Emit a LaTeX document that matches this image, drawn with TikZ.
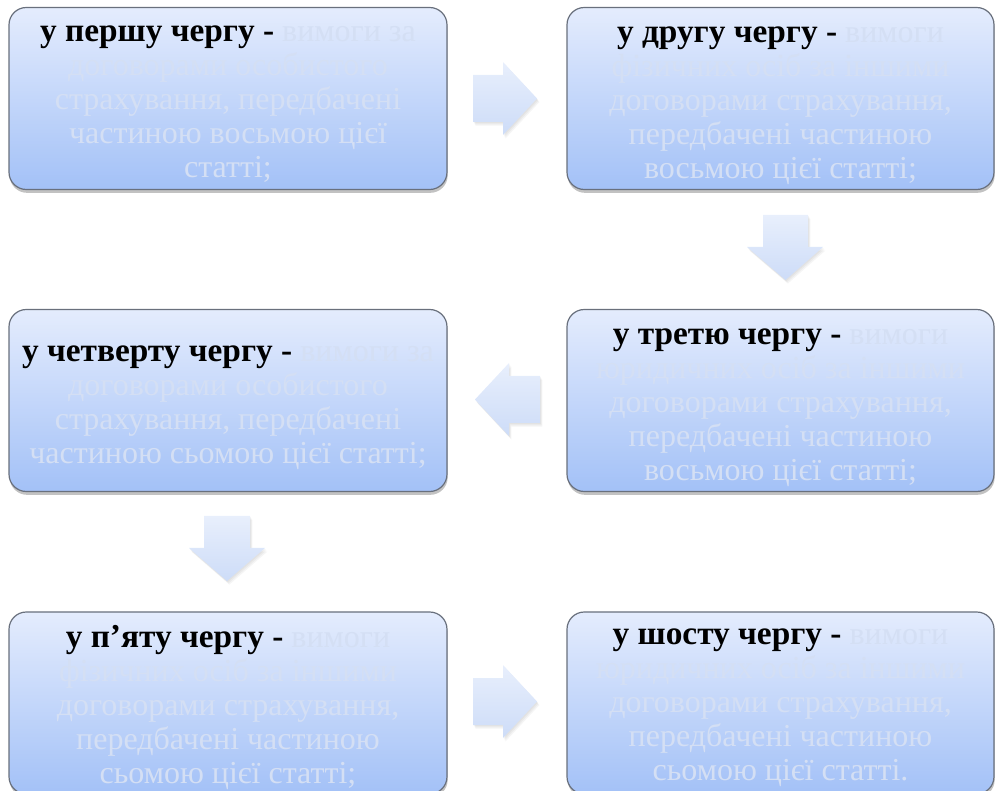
\documentclass[tikz,border=0pt]{standalone}
\usepackage{fontspec}
\setmainfont{Liberation Serif}
\usetikzlibrary{shadows}
\definecolor{boxtop}{RGB}{228,236,253}
\definecolor{boxbot}{RGB}{163,193,247}
\definecolor{boxline}{RGB}{105,112,125}
\definecolor{paletext}{RGB}{212,223,244}
\definecolor{arrtop}{RGB}{232,239,252}
\definecolor{arrbot}{RGB}{205,220,248}
\tikzset{
  stagebox/.style={draw=boxline, line width=0.9pt, rounded corners=13pt,
    top color=boxtop, bottom color=boxbot,
    minimum height=136.5pt, inner sep=0pt,
    drop shadow={shadow xshift=0.5pt, shadow yshift=-2.5pt, opacity=0.4, fill=black!60}},
  leftbox/.style={stagebox, minimum width=328.5pt},
  rightbox/.style={stagebox, minimum width=320.25pt},
  boxtext/.style={align=center, inner sep=0pt, font=\fontsize{24}{25.5}\selectfont},
  blockarrow/.style={top color=arrtop, bottom color=arrbot, draw=none},
  arrshadow/.style={fill=black, opacity=0.04},
}
\newcommand\lead[1]{{\fontsize{25}{25.5}\selectfont\textcolor{black}{\textbf{#1}}}}
\newcommand\pale[1]{\textcolor{paletext}{#1}}
\begin{document}
\begin{tikzpicture}[x=0.75pt,y=-0.75pt]
\useasboundingbox (0,0) rectangle (997,791);
\begin{scope}
\clip (0,0) rectangle (997,791);
% boxes
\node[leftbox] (b1) at (228,98.5) {};
\node[rightbox] (b2) at (780.5,98.5) {};
\node[rightbox] (b3) at (780.5,400.5) {};
\node[leftbox] (b4) at (228,400.5) {};
\node[leftbox] (b5) at (228,703) {};
\node[rightbox] (b6) at (780.5,703) {};
% texts
\node[boxtext] (t1) at ([yshift=-4.5pt]b1.center) {\lead{у першу чергу -} \pale{вимоги за}\\
 \pale{договорами особистого}\\
 \pale{страхування, передбачені}\\
 \pale{частиною восьмою цієї}\\
 \pale{статті;}};
\node[boxtext] (t2) at ([yshift=-5.25pt]b2.center) {\lead{у другу чергу -} \pale{вимоги}\\
 \pale{фізичних осіб за іншими}\\
 \pale{договорами страхування,}\\
 \pale{передбачені частиною}\\
 \pale{восьмою цієї статті;}};
\node[boxtext] (t3) at ([yshift=-5.25pt]b3.center) {\lead{у третю чергу -} \pale{вимоги}\\
 \pale{юридичних осіб за іншими}\\
 \pale{договорами страхування,}\\
 \pale{передбачені частиною}\\
 \pale{восьмою цієї статті;}};
\node[boxtext] (t4) at ([yshift=-5.25pt]b4.center) {\lead{у четверту чергу -} \pale{вимоги за}\\
 \pale{договорами особистого}\\
 \pale{страхування, передбачені}\\
 \pale{частиною сьомою цієї статті;}};
\node[boxtext] (t5) at ([yshift=-3.75pt]b5.center) {\lead{у п’яту чергу -} \pale{вимоги}\\
 \pale{фізичних осіб за іншими}\\
 \pale{договорами страхування,}\\
 \pale{передбачені частиною}\\
 \pale{сьомою цієї статті;}};
\node[boxtext] (t6) at ([yshift=-3.75pt]b6.center) {\lead{у шосту чергу -} \pale{вимоги}\\
 \pale{юридичних осіб за іншими}\\
 \pale{договорами страхування,}\\
 \pale{передбачені частиною}\\
 \pale{сьомою цієї статті.}};
% block arrows: soft shadows
\foreach \s in {1,2,3} {
\begin{scope}[shift={(\s*0.8,\s*1.2)}]
\fill[arrshadow] (473,75) -- (503,75) -- (503,62) -- (537,98.5) -- (503,135) -- (503,122) -- (473,122) -- cycle;
\fill[arrshadow] (763,215) -- (808,215) -- (808,247) -- (823,247) -- (785.5,280) -- (747,247) -- (763,247) -- cycle;
\fill[arrshadow] (540,376) -- (509,376) -- (509,363) -- (475,399.5) -- (509,436) -- (509,423) -- (540,423) -- cycle;
\fill[arrshadow] (204,516) -- (250,516) -- (250,548) -- (265,548) -- (227,581) -- (189,548) -- (204,548) -- cycle;
\fill[arrshadow] (473,678) -- (503,678) -- (503,665) -- (537,701.5) -- (503,738) -- (503,725) -- (473,725) -- cycle;
\end{scope}}
% block arrows
\path[blockarrow] (473,75) -- (503,75) -- (503,62) -- (537,98.5) -- (503,135) -- (503,122) -- (473,122) -- cycle;
\path[blockarrow] (763,215) -- (808,215) -- (808,247) -- (823,247) -- (785.5,280) -- (747,247) -- (763,247) -- cycle;
\path[blockarrow] (540,376) -- (509,376) -- (509,363) -- (475,399.5) -- (509,436) -- (509,423) -- (540,423) -- cycle;
\path[blockarrow] (204,516) -- (250,516) -- (250,548) -- (265,548) -- (227,581) -- (189,548) -- (204,548) -- cycle;
\path[blockarrow] (473,678) -- (503,678) -- (503,665) -- (537,701.5) -- (503,738) -- (503,725) -- (473,725) -- cycle;
\end{scope}
\end{tikzpicture}
\end{document}
